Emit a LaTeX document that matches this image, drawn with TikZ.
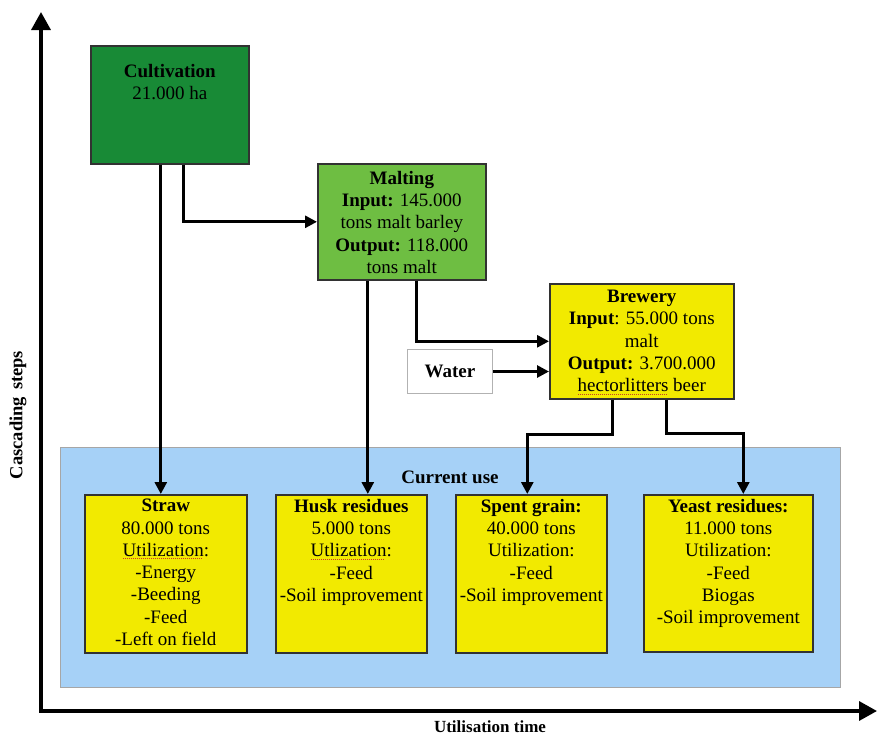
\documentclass[tikz,border=0pt]{standalone}
\usepackage{fontspec}
\setmainfont{Liberation Serif}
\usetikzlibrary{arrows.meta,calc}

\definecolor{cultgreen}{RGB}{24,138,54}
\definecolor{maltgreen}{RGB}{110,190,66}
\definecolor{boxyellow}{RGB}{242,234,0}
\definecolor{useblue}{RGB}{166,209,247}
\definecolor{edgegray}{RGB}{50,50,50}
\definecolor{spellred}{RGB}{205,60,40}

% dotted red mark under a word (spell-check underline)
\newcommand\spellmark[1]{\setbox0\hbox{#1}\makebox[0pt][l]{\copy0}\raisebox{-3pt}{\color{spellred}\hbox to\wd0{\leaders\hbox to 2pt{\hss\rule{1.2pt}{0.9pt}\hss}\hfill}}}

\tikzset{
  box/.style={draw=edgegray, line width=1.6pt, anchor=north west, inner sep=0pt},
  txt/.style={align=center, anchor=north, inner sep=0pt,
              font=\fontsize{19}{22.3}\selectfont},
  arr/.style={line width=2.8pt, -{Triangle[length=12pt,width=12pt]}},
  axis/.style={line width=3.4pt, -{Triangle[length=18pt,width=19pt]}},
  axlabel/.style={font=\fontsize{17}{20}\selectfont\bfseries, inner sep=0pt}
}

\begin{document}
\begin{tikzpicture}[x=1pt,y=-1pt]
\useasboundingbox (0,0) rectangle (877,736);

% axes
\coordinate (origin) at (41,711);
\coordinate (ytop) at (41,12);
\coordinate (xend) at (877,711);
\draw[axis] ([yshift=-1.7pt]origin) -- (ytop);
\draw[axis] ([xshift=-1.7pt]origin) -- (xend);
\node[axlabel, font=\fontsize{18.5}{20}\selectfont\bfseries, rotate=90] (ylab) at (18,415) {Cascading\hspace{7pt}steps};
\node[axlabel] (xlab) at (490,727) {Utilisation time};

% current-use panel
\node[box, draw=gray!70, line width=1pt, fill=useblue,
      minimum width=780pt, minimum height=240pt] (panel) at (60,447) {};
\node[txt, font=\fontsize{19}{22}\selectfont\bfseries] (paneltitle) at (450,471) {Current use};

% process boxes
\node[box, fill=cultgreen, minimum width=158pt, minimum height=118pt] (cult) at (90,45) {};
\node[txt] (cultT) at ([yshift=-19pt]cult.north) {\textbf{Cultivation}\\21.000 ha};

\node[box, fill=maltgreen, minimum width=168pt, minimum height=116pt] (malt) at (317,163) {};
\node[txt] (maltT) at ([yshift=-8pt]malt.north)
  {\textbf{Malting}\\\textbf{Input:} 145.000\\tons malt barley\\\textbf{Output:} 118.000\\tons malt};

\node[box, fill=boxyellow, minimum width=184pt, minimum height=115pt] (brew) at (549,283) {};
\node[txt] (brewT) at ([yshift=-7pt]brew.north)
  {\textbf{Brewery}\\\textbf{Input}: 55.000 tons\\malt\\\textbf{Output:} 3.700.000\\\spellmark{hectorlitters} beer};

\node[box, draw=gray!60, line width=1pt, fill=white, minimum width=85pt, minimum height=44pt] (water) at (407,349) {};
\node[txt, anchor=center, font=\fontsize{19}{22}\selectfont\bfseries] (waterT) at (water.center) {Water};

% residue boxes
\node[box, fill=boxyellow, minimum width=162pt, minimum height=158pt] (straw) at (84,494) {};
\node[txt] (strawT) at ([yshift=-5pt]straw.north)
  {\textbf{Straw}\\80.000 tons\\\spellmark{Utilization}:\\-Energy\\-Beeding\\-Feed\\-Left on field};

\node[box, fill=boxyellow, minimum width=151pt, minimum height=158pt] (husk) at (275,494) {};
\node[txt] (huskT) at ([yshift=-5pt]husk.north)
  {\textbf{Husk residues}\\5.000 tons\\\spellmark{Utlization}:\\-Feed\\-Soil improvement};

\node[box, fill=boxyellow, minimum width=151pt, minimum height=158pt] (spent) at (455,494) {};
\node[txt] (spentT) at ([yshift=-5pt]spent.north)
  {\textbf{Spent grain:}\\40.000 tons\\Utilization:\\-Feed\\-Soil improvement};

\node[box, fill=boxyellow, minimum width=169pt, minimum height=157pt] (yeast) at (643,494) {};
\node[txt] (yeastT) at ([yshift=-5pt]yeast.north)
  {\textbf{Yeast residues:}\\11.000 tons\\Utilization:\\-Feed\\Biogas\\-Soil improvement};

% flows
\draw[arr] ([xshift=-9pt]cult.south) -- ([xshift=-9pt]cult.south |- straw.north);
\draw[arr] ([xshift=14pt]cult.south) |- (malt.west);
\draw[arr] ([xshift=-34pt]malt.south) -- ([xshift=-34pt]malt.south |- husk.north);
\draw[arr] ([xshift=15pt]malt.south) |- (brew.west);
\draw[arr] (water.east) -- (water.east -| brew.west);
\draw[arr] ([xshift=-29pt]brew.south) -- ++(0,35) -| ([xshift=-4pt]spent.north);
\draw[arr] ([xshift=25pt]brew.south) -- ++(0,34) -| ([xshift=15pt]yeast.north);
\end{tikzpicture}
\end{document}
